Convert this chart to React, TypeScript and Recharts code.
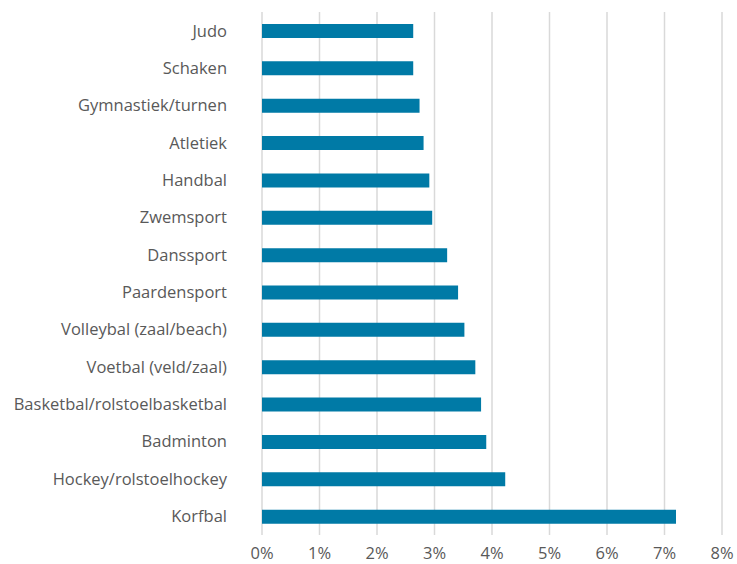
import { BarChart, Bar, XAxis, YAxis, CartesianGrid } from 'recharts';

const sports = [
  'Judo',
  'Schaken',
  'Gymnastiek/turnen',
  'Atletiek',
  'Handbal',
  'Zwemsport',
  'Danssport',
  'Paardensport',
  'Volleybal (zaal/beach)',
  'Voetbal (veld/zaal)',
  'Basketbal/rolstoelbasketbal',
  'Badminton',
  'Hockey/rolstoelhockey',
  'Korfbal',
];

const shares = [2.63, 2.63, 2.74, 2.81, 2.91, 2.96, 3.22, 3.41, 3.52, 3.71, 3.81, 3.9, 4.23, 7.2];

const xTicks = [0, 1, 2, 3, 4, 5, 6, 7, 8];

const data = sports.map((name, i) => ({ name, value: shares[i] }));

const font = '"Open Sans", sans-serif';

export default function App() {
  return (
    <div style={{ position: 'absolute', left: 0, top: 0 }}>
      <BarChart
        width={737}
        height={564}
        data={data}
        layout="vertical"
        margin={{ top: 12, right: 15, left: 0, bottom: 0 }}
      >
        <CartesianGrid horizontal={false} stroke="#d9d9d9" strokeWidth={1.5} />
        <XAxis
          type="number"
          domain={[0, 8]}
          ticks={xTicks}
          tickFormatter={(v: number) => `${v}%`}
          axisLine={false}
          tickLine={false}
          tickSize={0}
          tickMargin={12}
          height={29}
          tick={{ fontSize: 16.5, fill: '#595959', fontFamily: font }}
        />
        <YAxis
          type="category"
          dataKey="name"
          width={262}
          axisLine={false}
          tickLine={false}
          tickSize={0}
          tickMargin={35}
          interval={0}
          tick={{ fontSize: 16.5, fill: '#595959', fontFamily: font }}
        />
        <Bar dataKey="value" fill="#007aa6" barSize={14} isAnimationActive={false} />
      </BarChart>
    </div>
  );
}
